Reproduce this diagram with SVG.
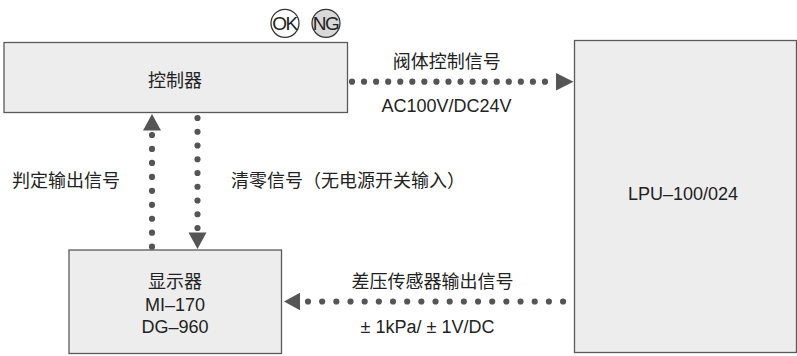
<svg xmlns="http://www.w3.org/2000/svg" width="797" height="356" viewBox="0 0 797 356">
<style>
.box{fill:#ededed;stroke:#5a5a5a;stroke-width:1.3}
.t{font-family:"Liberation Sans","Noto Sans CJK SC",Arial,sans-serif;font-size:18px;fill:#222}
.c{text-anchor:middle}
.dots{fill:none;stroke:#555;stroke-width:6.2;stroke-linecap:round}
.head{fill:#555}
.badge{stroke:#333;stroke-width:1.3}
.bt{font-family:"Liberation Sans",Arial,sans-serif;font-size:19px;fill:#222;text-anchor:middle;letter-spacing:-1.5px}
</style>
<rect width="797" height="356" fill="#fff"/>
<g id="node-controller">
<rect class="box" x="4" y="42.5" width="343.5" height="70"/>
<text class="t c" x="175" y="86.5">控制器</text>
</g>
<g id="node-ok">
<circle class="badge" cx="285" cy="23.3" r="14" fill="#fff"/>
<text class="bt" x="284.5" y="30.2">OK</text>
</g>
<g id="node-ng">
<circle class="badge" cx="326" cy="23.3" r="14" fill="#d9d9d9"/>
<text class="bt" x="325.5" y="30.2">NG</text>
</g>
<g id="node-lpu">
<rect class="box" x="574.5" y="40.5" width="222" height="312"/>
<text class="t c" x="683" y="200">LPU–100/024</text>
</g>
<g id="node-display">
<rect class="box" x="69" y="250" width="212.5" height="103.5"/>
<text class="t c" x="175" y="288">显示器</text>
<text class="t c" x="175" y="310.5">MI–170</text>
<text class="t c" x="175" y="333">DG–960</text>
</g>
<g id="connectors">
<line class="dots" x1="352" y1="81.7" x2="545.4" y2="81.7" stroke-dasharray="0 12.06"/>
<polygon class="head" points="573.5,81.7 556,73 556,90.4"/>
<text class="t c" x="446.7" y="68">阀体控制信号</text>
<text class="t c" x="446.5" y="111.5">AC100V/DC24V</text>
<line class="dots" x1="152" y1="135" x2="152" y2="247.2" stroke-dasharray="0 13.96"/>
<polygon class="head" points="152,114 143,130.5 161,130.5"/>
<text class="t c" x="66" y="186.5">判定输出信号</text>
<line class="dots" x1="197.5" y1="118" x2="197.5" y2="228.4" stroke-dasharray="0 13.75"/>
<polygon class="head" points="197.5,249 188.5,232.5 206.5,232.5"/>
<text class="t" x="231" y="186.5">清零信号（无电源开关输入）</text>
<line class="dots" x1="308" y1="301.5" x2="563.4" y2="301.5" stroke-dasharray="0 14.17"/>
<polygon class="head" points="284,301.5 300,292.8 300,310.2"/>
<text class="t c" x="432.5" y="288">差压传感器输出信号</text>
<text class="t c" x="427.5" y="333">± 1kPa/ ± 1V/DC</text>
</g>
</svg>
